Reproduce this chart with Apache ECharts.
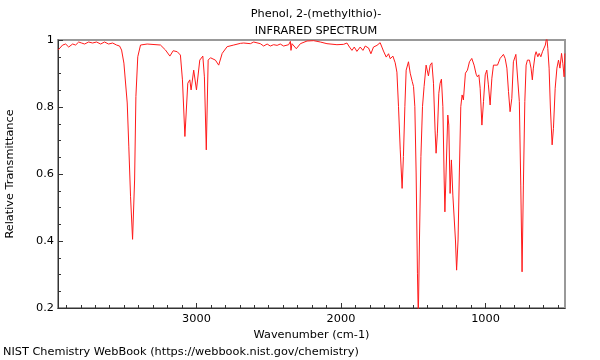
<!DOCTYPE html>
<html>
<head>
<meta charset="utf-8">
<script src="https://cdn.jsdelivr.net/npm/echarts@6/dist/echarts.min.js"></script>
<style>html,body{margin:0;padding:0;background:#fff;}#c{width:600px;height:360px;}</style>
</head>
<body>
<div id="c"></div>
<script>
const titleLines = ["Phenol, 2-(methylthio)-", "INFRARED SPECTRUM"];
const xAxisName = "Wavenumber (cm-1)";
const yAxisName = "Relative Transmittance";
const footer = "NIST Chemistry WebBook (https://webbook.nist.gov/chemistry)";
const xMajorTicks = [1000, 2000, 3000];
const xMinorTicks = [500,600,700,800,900,1100,1200,1300,1400,1500,1600,1700,1800,1900,2100,2200,2300,2400,2500,2600,2700,2800,2900,3100,3200,3300,3400,3500,3600,3700,3800,3900];

const wavenumber = [3957,3926,3905,3884,3857,3836,3815,3795,3774,3746,3719,3691,3663,3636,3608,3580,3553,3532,3518,3502,3479,3468,3456,3442,3428,3419,3406,3387,3341,3249,3214,3184,3161,3133,3111,3097,3080,3060,3046,3037,3019,3000,2977,2956,2945,2932,2919,2903,2869,2846,2822,2788,2742,2696,2673,2627,2604,2558,2535,2511,2489,2466,2442,2420,2397,2362,2350,2346,2339,2328,2309,2281,2235,2189,2143,2097,2028,1982,1959,1941,1924,1908,1890,1867,1848,1832,1809,1793,1775,1751,1729,1717,1706,1687,1671,1659,1641,1625,1613,1602,1590,1577,1568,1558,1549,1533,1521,1507,1498,1489,1480,1471,1465,1457,1447,1436,1425,1411,1395,1383,1371,1360,1349,1342,1333,1323,1314,1305,1295,1286,1281,1273,1261,1254,1245,1236,1226,1217,1208,1200,1190,1181,1171,1162,1153,1139,1125,1111,1095,1084,1079,1065,1056,1046,1037,1025,1014,1002,991,980,968,956,945,933,917,899,876,864,852,841,830,818,807,790,777,766,756,747,738,728,719,710,696,685,676,669,657,650,638,629,617,606,595,586,576,569,560,551,539,530,518,506,495,485,474,465,456,451];
const transmittance = [0.970,0.985,0.988,0.979,0.988,0.985,0.994,0.991,0.988,0.994,0.991,0.994,0.988,0.994,0.988,0.991,0.985,0.982,0.970,0.931,0.812,0.681,0.532,0.405,0.582,0.831,0.950,0.985,0.988,0.985,0.970,0.952,0.968,0.965,0.955,0.881,0.712,0.871,0.881,0.851,0.910,0.851,0.940,0.952,0.890,0.672,0.940,0.947,0.940,0.925,0.960,0.980,0.985,0.990,0.991,0.989,0.994,0.989,0.982,0.988,0.982,0.986,0.984,0.988,0.982,0.986,0.996,0.969,0.989,0.984,0.974,0.989,0.997,0.998,0.994,0.989,0.986,0.987,0.991,0.979,0.969,0.979,0.966,0.979,0.969,0.982,0.976,0.959,0.979,0.984,0.992,0.979,0.967,0.949,0.959,0.944,0.952,0.932,0.904,0.801,0.672,0.557,0.652,0.801,0.910,0.935,0.901,0.876,0.861,0.801,0.603,0.304,0.170,0.403,0.652,0.801,0.861,0.925,0.893,0.925,0.932,0.871,0.731,0.662,0.722,0.841,0.871,0.883,0.801,0.582,0.487,0.603,0.776,0.746,0.542,0.642,0.537,0.540,0.403,0.313,0.403,0.603,0.801,0.836,0.821,0.901,0.910,0.935,0.945,0.942,0.925,0.898,0.890,0.896,0.856,0.746,0.816,0.896,0.910,0.866,0.806,0.886,0.925,0.920,0.925,0.945,0.957,0.945,0.916,0.846,0.786,0.826,0.935,0.957,0.955,0.816,0.567,0.308,0.567,0.816,0.925,0.940,0.940,0.916,0.881,0.916,0.955,0.965,0.950,0.960,0.950,0.965,0.970,0.985,1.010,0.975,0.916,0.797,0.687,0.736,0.856,0.916,0.940,0.916,0.960,0.930,0.890,0.960];

const seriesData = wavenumber.map((w, i) => [w, transmittance[i]]);
const font = "DejaVu Sans";
const fs = 11.3;

const chart = echarts.init(document.getElementById('c'), null, {renderer: 'canvas'});
chart.setOption({
  animation: false,
  backgroundColor: '#ffffff',
  title: {
    text: titleLines.join('\n'),
    left: 311, top: 1, textAlign: 'center',
    textStyle: {fontFamily: font, fontSize: fs, fontWeight: 'normal', color: '#000', lineHeight: 17}
  },
  graphic: [{
    type: 'text', left: 3, top: 347,
    style: {text: footer, font: fs + 'px "DejaVu Sans"', fill: '#000'}
  }],
  grid: {left: 58, right: 35, top: 40, bottom: 52, containLabel: false, outerBoundsMode: 'none',
         show: true, borderColor: '#999', borderWidth: 2, backgroundColor: 'transparent'},
  xAxis: [{
    type: 'value', min: 450, max: 3958, inverse: true,
    name: xAxisName, nameLocation: 'middle', nameGap: 18,
    nameTextStyle: {fontFamily: font, fontSize: fs, color: '#000'},
    axisLine: {show: true, lineStyle: {color: '#333', width: 1}},
    axisTick: {show: true, inside: true, length: 5, customValues: xMajorTicks, lineStyle: {color: '#333'}},
    axisLabel: {show: true, customValues: xMajorTicks, margin: 6, fontFamily: font, fontSize: fs, color: '#000', formatter: v => String(v)},
    splitLine: {show: false}
  }, {
    type: 'value', min: 450, max: 3958, inverse: true, position: 'bottom',
    axisLine: {show: false},
    axisTick: {show: true, inside: true, length: 3, customValues: xMinorTicks, lineStyle: {color: '#333'}},
    axisLabel: {show: false},
    splitLine: {show: false}
  }],
  yAxis: {
    type: 'value', min: 0.2, max: 1, interval: 0.2,
    name: yAxisName, nameLocation: 'middle', nameGap: 42,
    nameTextStyle: {fontFamily: font, fontSize: fs, color: '#000'},
    axisLine: {show: true, lineStyle: {color: '#333', width: 1}},
    axisTick: {show: true, inside: true, length: 5, lineStyle: {color: '#333'}},
    minorTick: {show: true, splitNumber: 4, length: 3, lineStyle: {color: '#333'}},
    axisLabel: {margin: 4, fontFamily: font, fontSize: fs, color: '#000'},
    splitLine: {show: false}
  },
  series: [{
    type: 'line', xAxisIndex: 0, data: seriesData, showSymbol: false, clip: true,
    lineStyle: {color: '#ff1a1a', width: 1}, silent: true
  }]
});
</script>
</body>
</html>
